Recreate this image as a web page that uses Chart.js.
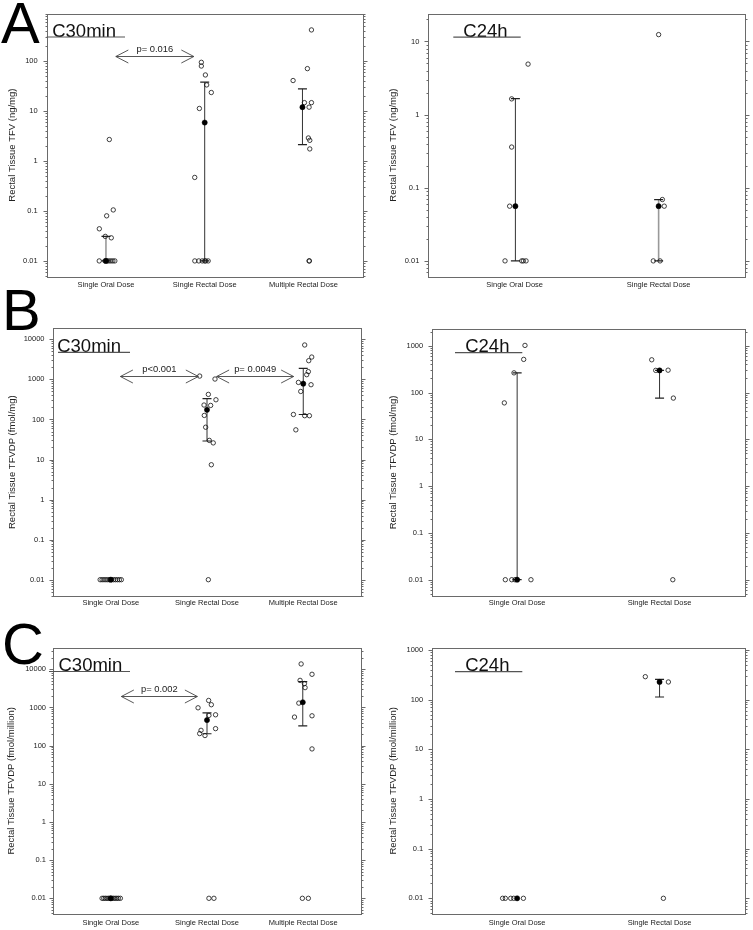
<!DOCTYPE html>
<html><head><meta charset="utf-8">
<script src="https://cdn.jsdelivr.net/npm/chart.js@4.4.1/dist/chart.umd.min.js"></script>
<style>
html,body{margin:0;padding:0;background:#fff;}
body{width:753px;height:930px;position:relative;overflow:hidden;font-family:"Liberation Sans",Arial,sans-serif;}
canvas{position:absolute;}
.big{position:absolute;font-size:58px;line-height:58px;color:#000;z-index:5;font-family:"Liberation Sans",Arial,sans-serif;}
</style></head><body>
<div class="big" style="left:1px;top:-6px;">A</div>
<div class="big" style="left:2px;top:281px;">B</div>
<div class="big" style="left:2px;top:615px;">C</div>
<canvas id="a30"></canvas><canvas id="a24"></canvas>
<canvas id="b30"></canvas><canvas id="b24"></canvas>
<canvas id="c30"></canvas><canvas id="c24"></canvas>
<script>
// ---------- DATA ----------
const cats30 = ["Single Oral Dose", "Single Rectal Dose", "Multiple Rectal Dose"];
const cats24 = ["Single Oral Dose", "Single Rectal Dose"];

const ticksA30 = [0.01, 0.1, 1, 10, 100];
const ticksA24 = [0.01, 0.1, 1, 10];
const ticksB30 = [0.01, 0.1, 1, 10, 100, 1000, 10000];
const ticksB24 = [0.01, 0.1, 1, 10, 100, 1000];
const ticksC30 = [0.01, 0.1, 1, 10, 100, 1000, 10000];
const ticksC24 = [0.01, 0.1, 1, 10, 100, 1000];

// individual subjects [jittered group position, value]
const a30Points = [
  [1.034, 2.7], [1.074, 0.105], [1.007, 0.08], [0.933, 0.044], [1.054, 0.029], [0.993, 0.031],
  [0.932, 0.01], [0.99, 0.01], [1.01, 0.01], [1.03, 0.01], [1.05, 0.01], [1.07, 0.01], [1.09, 0.01],
  [1.966, 95], [1.966, 80], [2.007, 53], [2.02, 33.5], [2.067, 23.6], [1.946, 11.3], [1.899, 0.47],
  [1.90, 0.01], [1.94, 0.01], [1.975, 0.01], [2.0, 0.01], [2.01, 0.01], [2.035, 0.01],
  [3.081, 423], [3.04, 71], [2.895, 41], [3.01, 14.8], [3.081, 14.8], [3.057, 12], [3.05, 2.9],
  [3.064, 2.6], [3.064, 1.75], [3.057, 0.01], [3.06, 0.01]
];
const a30Median = [[1, 0.01], [2, 5.9], [2.99, 12]];
const a30Low = [0.01, 0.01, 2.14];
const a30High = [0.031, 38, 27.9];
const a30P = [{x1: 1.10, x2: 1.89, y: 130, text: "p= 0.016"}];

const a24Points = [
  [1.093, 4.9], [0.979, 1.64], [0.979, 0.36], [0.965, 0.056],
  [0.933, 0.01], [1.049, 0.01], [1.06, 0.01], [1.079, 0.01],
  [2.0, 12.4], [2.026, 0.069], [2.039, 0.056], [1.963, 0.01], [2.01, 0.01]
];
const a24Median = [[1.005, 0.056], [2.0, 0.056]];
const a24Low = [0.01, 0.01];
const a24High = [1.65, 0.069];

const b30Points = [
  [0.89, 0.01], [0.91, 0.01], [0.93, 0.01], [0.95, 0.01], [0.97, 0.01], [0.99, 0.01],
  [1.01, 0.01], [1.03, 0.01], [1.05, 0.01], [1.07, 0.01], [1.09, 0.01], [1.11, 0.01],
  [1.924, 1210], [2.083, 1020], [2.014, 422], [2.093, 310], [1.969, 229], [2.038, 224],
  [1.972, 126], [1.986, 64], [2.024, 30], [2.065, 26], [2.045, 7.4], [2.014, 0.01],
  [3.015, 7220], [3.088, 3610], [3.057, 2930], [3.053, 1560], [3.036, 1310], [2.95, 840],
  [3.081, 736], [2.974, 500], [2.898, 133], [3.015, 124], [3.064, 124], [2.923, 55]
];
const b30Median = [[1, 0.01], [2, 174], [3, 780]];
const b30Low = [null, 29, 133];
const b30High = [null, 330, 1880];
const b30P = [
  {x1: 1.10, x2: 1.91, y: 1190, text: "p<0.001"},
  {x1: 2.10, x2: 2.90, y: 1190, text: "p= 0.0049"}
];

const b24Points = [
  [1.055, 1015], [1.046, 510], [0.978, 263], [0.91, 60],
  [0.917, 0.01], [0.962, 0.01], [0.985, 0.01], [1.097, 0.01],
  [1.945, 500], [1.973, 297], [2.06, 300], [2.097, 76], [2.093, 0.01]
];
const b24Median = [[1, 0.01], [2, 297]];
const b24Low = [0.01, 76];
const b24High = [263, 297];

const c30Points = [
  [0.91, 0.01], [0.927, 0.01], [0.944, 0.01], [0.961, 0.01], [0.978, 0.01], [0.995, 0.01],
  [1.012, 0.01], [1.029, 0.01], [1.046, 0.01], [1.063, 0.01], [1.08, 0.01], [1.10, 0.01],
  [2.017, 1525], [2.045, 1180], [1.907, 980], [2.089, 643], [2.02, 620], [2.089, 279],
  [1.938, 252], [1.924, 207], [1.979, 184], [2.02, 0.01], [2.072, 0.01],
  [2.978, 13800], [3.091, 7400], [2.967, 5130], [3.012, 4220], [3.019, 3310], [2.954, 1300],
  [2.909, 560], [3.091, 605], [3.091, 82], [2.991, 0.01], [3.053, 0.01]
];
const c30Median = [[1, 0.01], [2, 466], [2.995, 1370]];
const c30Low = [null, 205, 330];
const c30High = [null, 720, 4750];
const c30P = [{x1: 1.11, x2: 1.90, y: 2050, text: "p= 0.002"}];

const c24Points = [
  [0.898, 0.01], [0.917, 0.01], [0.955, 0.01], [0.976, 0.01], [1.044, 0.01],
  [1.9, 290], [2.062, 227], [2.027, 0.01]
];
const c24Median = [[1, 0.01], [2, 227]];
const c24Low = [null, 113];
const c24High = [null, 257];

// ---------- STYLE / LAYOUT ----------
const FONT = '"Liberation Sans", Arial, sans-serif';
Chart.defaults.font.family = FONT;

function makePanel(id, c) {
  const cv = document.getElementById(id);
  cv.width = c.w; cv.height = c.h;
  cv.style.left = c.x0 + 'px'; cv.style.top = c.y0 + 'px';
  cv.style.width = c.w + 'px'; cv.style.height = c.h + 'px';

  const plugin = {
    id: 'panel_' + id,
    beforeDatasetsDraw(chart) {
      const {ctx, chartArea: ca} = chart;
      const x = chart.scales.x, y = chart.scales.y;
      ctx.save();
      ctx.strokeStyle = '#6a6a6a'; ctx.lineWidth = 1;
      ctx.strokeRect(Math.round(ca.left) + 0.5, Math.round(ca.top) + 0.5,
                     Math.round(ca.right - ca.left), Math.round(ca.bottom - ca.top));
      ctx.beginPath();
      for (let e = -3; e <= 5; e++) for (let k = 1; k <= 9; k++) {
        const v = k * Math.pow(10, e);
        if (v < y.min || v > y.max) continue;
        const py = Math.round(y.getPixelForValue(v)) + 0.5;
        const len = k === 1 ? 4 : 2;
        const l = Math.round(ca.left) + 0.5, r = Math.round(ca.right) + 0.5;
        ctx.moveTo(l - len, py); ctx.lineTo(l, py);
        ctx.moveTo(r, py); ctx.lineTo(r + len, py);
      }
      ctx.stroke();
      // error bars
      c.median.forEach((m, i) => {
        const lo = c.low[i], hi = c.high[i];
        if (lo == null) return;
        const px = x.getPixelForValue(m[0]);
        const p1 = y.getPixelForValue(lo), p2 = y.getPixelForValue(hi);
        const cap = 4.5;
        ctx.strokeStyle = c.barColors[i];
        ctx.lineWidth = c.barColors[i] === '#333' ? 1 : 1.6;
        ctx.beginPath();
        ctx.moveTo(px, p1); ctx.lineTo(px, p2);
        ctx.stroke();
        ctx.strokeStyle = '#222'; ctx.lineWidth = 1.2;
        ctx.beginPath();
        ctx.moveTo(px - cap, p1); ctx.lineTo(px + cap, p1);
        ctx.moveTo(px - cap, p2); ctx.lineTo(px + cap, p2);
        ctx.stroke();
      });
      ctx.restore();
    },
    afterDatasetsDraw(chart) {
      const {ctx, chartArea: ca} = chart;
      const x = chart.scales.x, y = chart.scales.y;
      ctx.save();
      // panel label with underline
      const lb = c.label;
      ctx.fillStyle = '#111';
      ctx.font = '18.5px ' + FONT;
      ctx.textBaseline = 'alphabetic'; ctx.textAlign = 'left';
      ctx.fillText(lb.text, ca.left + lb.dx, ca.top + lb.dy);
      ctx.strokeStyle = '#555'; ctx.lineWidth = 1.2;
      ctx.beginPath();
      ctx.moveTo(ca.left + lb.u1, ca.top + lb.uy); ctx.lineTo(ca.left + lb.u2, ca.top + lb.uy);
      ctx.stroke();
      // p-value arrows
      (c.arrows || []).forEach(a => {
        const x1 = x.getPixelForValue(a.x1), x2 = x.getPixelForValue(a.x2);
        const py = Math.round(y.getPixelForValue(a.y)) + 0.5;
        ctx.strokeStyle = '#444'; ctx.lineWidth = 0.9;
        ctx.beginPath();
        ctx.moveTo(x1, py); ctx.lineTo(x2, py);
        ctx.moveTo(x1 + 12.5, py - 6.5); ctx.lineTo(x1, py); ctx.lineTo(x1 + 12.5, py + 6.5);
        ctx.moveTo(x2 - 12.5, py - 6.5); ctx.lineTo(x2, py); ctx.lineTo(x2 - 12.5, py + 6.5);
        ctx.stroke();
        ctx.fillStyle = '#222';
        ctx.font = '9.4px ' + FONT;
        ctx.textAlign = 'center'; ctx.textBaseline = 'middle';
        ctx.fillText(a.text, (x1 + x2) / 2, py - 7);
      });
      ctx.restore();
    }
  };

  return new Chart(cv, {
    type: 'scatter',
    data: {
      datasets: [
        {
          data: c.median.map(p => ({x: p[0], y: p[1]})),
          pointRadius: 2.6, pointBackgroundColor: '#000', pointBorderColor: '#000',
          pointBorderWidth: 0.5, order: 0
        },
        {
          data: c.points.map(p => ({x: p[0], y: p[1]})),
          pointRadius: 2.2, pointBackgroundColor: 'rgba(0,0,0,0)', pointBorderColor: '#111',
          pointBorderWidth: 0.8, order: 1
        }
      ]
    },
    options: {
      responsive: false, animation: false, devicePixelRatio: 1,
      layout: {padding: {top: c.padTop, right: c.padRight, left: 0, bottom: 0}},
      plugins: {legend: {display: false}, tooltip: {enabled: false}},
      scales: {
        x: {
          type: 'linear', min: 0.4, max: c.cats.length + 0.6,
          afterBuildTicks: s => { s.ticks = c.cats.map((_, i) => ({value: i + 1})); },
          afterFit: s => { s.height = c.xH; },
          grid: {display: false, drawTicks: false},
          border: {display: false},
          ticks: {
            callback: v => c.cats[Math.round(v) - 1] || '',
            autoSkip: false, maxRotation: 0, padding: c.xPad,
            color: '#222', font: {size: 7.5}
          }
        },
        y: {
          type: 'logarithmic', min: c.yMin, max: c.yMax,
          afterBuildTicks: s => { s.ticks = c.yTicks.map(v => ({value: v})); },
          afterFit: s => { s.width = c.yW; },
          grid: {display: false, drawTicks: false},
          border: {display: false},
          ticks: {
            callback: v => String(v), autoSkip: false, padding: c.yPad,
            color: '#222', font: {size: 7.5}
          },
          title: {
            display: true, text: c.title, color: '#222',
            font: {size: 9.5}, padding: {top: c.titlePad, bottom: 0}
          }
        }
      }
    },
    plugins: [plugin]
  });
}

makePanel('a30', {
  x0: 0, y0: 0, w: 372, h: 300, yW: 46.7, padTop: 10, padRight: 9.3, xH: 23.3,
  xPad: 3.8, yPad: 9, titlePad: 6.3,
  cats: cats30, yTicks: ticksA30, yMin: 0.00483, yMax: 902,
  points: a30Points, median: a30Median, low: a30Low, high: a30High,
  barColors: ['#999', '#333', '#333'], arrows: a30P,
  title: 'Rectal Tissue TFV (ng/mg)',
  label: {text: 'C30min', dx: 5.5, dy: 23.3, u1: 0, u2: 78.3, uy: 23.5}
});
makePanel('a24', {
  x0: 375, y0: 0, w: 378, h: 300, yW: 53.3, padTop: 10, padRight: 8, xH: 23.3,
  xPad: 3.8, yPad: 9, titlePad: 12.6,
  cats: cats24, yTicks: ticksA24, yMin: 0.00608, yMax: 24.1,
  points: a24Points, median: a24Median, low: a24Low, high: a24High,
  barColors: ['#333', '#999'], arrows: [],
  title: 'Rectal Tissue TFV (ng/mg)',
  label: {text: 'C24h', dx: 35, dy: 23.3, u1: 25, u2: 92.4, uy: 23.7}
});
makePanel('b30', {
  x0: 0, y0: 300, w: 372, h: 310, yW: 53, padTop: 28.3, padRight: 11, xH: 14,
  xPad: 2.8, yPad: 8.5, titlePad: 6.3,
  cats: cats30, yTicks: ticksB30, yMin: 0.00392, yMax: 18840,
  points: b30Points, median: b30Median, low: b30Low, high: b30High,
  barColors: ['#333', '#333', '#333'], arrows: b30P,
  title: 'Rectal Tissue TFVDP (fmol/mg)',
  label: {text: 'C30min', dx: 4.2, dy: 23.7, u1: 5, u2: 77, uy: 24}
});
makePanel('b24', {
  x0: 375, y0: 300, w: 378, h: 310, yW: 56.7, padTop: 29, padRight: 8, xH: 14,
  xPad: 2.8, yPad: 8.5, titlePad: 12.6,
  cats: cats24, yTicks: ticksB24, yMin: 0.00449, yMax: 2275,
  points: b24Points, median: b24Median, low: b24Low, high: b24High,
  barColors: ['#333', '#333'], arrows: [],
  title: 'Rectal Tissue TFVDP (fmol/mg)',
  label: {text: 'C24h', dx: 33.5, dy: 22.7, u1: 23.3, u2: 90.6, uy: 23.7}
});
makePanel('c30', {
  x0: 0, y0: 610, w: 372, h: 320, yW: 53, padTop: 37.7, padRight: 11, xH: 16,
  xPad: 4.2, yPad: 7, titlePad: 5.3,
  cats: cats30, yTicks: ticksC30, yMin: 0.00388, yMax: 36800,
  points: c30Points, median: c30Median, low: c30Low, high: c30High,
  barColors: ['#333', '#333', '#333'], arrows: c30P,
  title: 'Rectal Tissue TFVDP (fmol/million)',
  label: {text: 'C30min', dx: 5.5, dy: 23.3, u1: -4, u2: 77, uy: 23.8}
});
makePanel('c24', {
  x0: 375, y0: 610, w: 378, h: 320, yW: 56.7, padTop: 37.7, padRight: 8, xH: 16,
  xPad: 4.2, yPad: 8.5, titlePad: 12.6,
  cats: cats24, yTicks: ticksC24, yMin: 0.00483, yMax: 1112,
  points: c24Points, median: c24Median, low: c24Low, high: c24High,
  barColors: ['#333', '#333'], arrows: [],
  title: 'Rectal Tissue TFVDP (fmol/million)',
  label: {text: 'C24h', dx: 33.5, dy: 23.3, u1: 23.3, u2: 90.6, uy: 24}
});
</script>
</body></html>
